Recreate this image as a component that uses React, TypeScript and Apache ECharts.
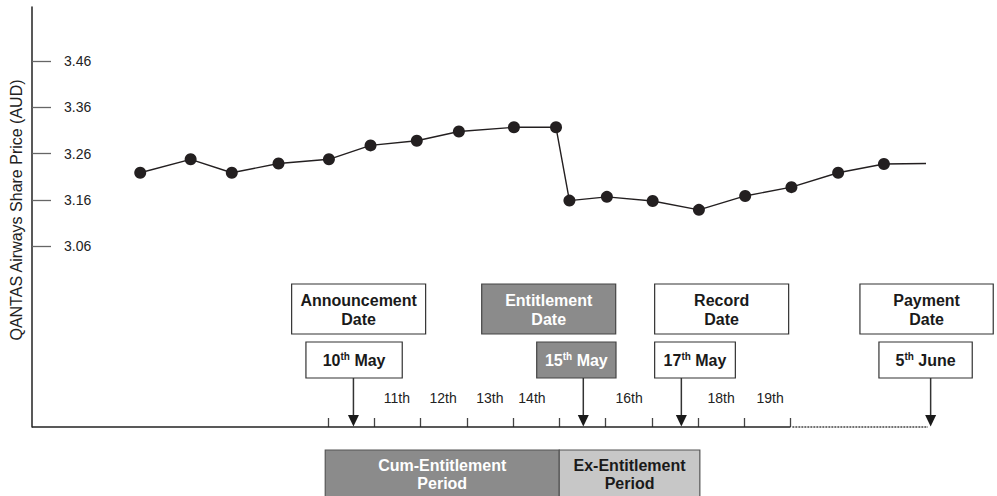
import React, { useEffect, useRef } from 'react';
import * as echarts from 'echarts';

// ---- data ----
const dayPositions = [5.94, 7.03, 7.92, 8.93, 10.02, 10.92, 11.92, 12.83, 14.02, 14.93, 15.22, 16.03, 17.02, 18.02, 19.02, 20.02, 21.03, 22.02, 22.93];
const sharePrices = [3.219, 3.248, 3.219, 3.239, 3.248, 3.278, 3.288, 3.308, 3.317, 3.317, 3.159, 3.167, 3.158, 3.139, 3.169, 3.188, 3.219, 3.238, 3.239];
const priceTicks = [3.06, 3.16, 3.26, 3.36, 3.46];
const dayTicks = [10, 11, 12, 13, 14, 15, 16, 17, 18, 19, 20];
const dayLabels = ['11th', '12th', '13th', '14th', '16th', '18th', '19th'];
const dayLabelPositions = [11.49, 12.49, 13.5, 14.41, 16.51, 18.5, 19.56];
const solidAxisRange = [3.6, 20];
const dottedAxisRange = [20.04, 22.97];
const eventTitles = [['Announcement', 'Date'], ['Entitlement', 'Date'], ['Record', 'Date'], ['Payment', 'Date']];
const eventDayNumbers = ['10', '15', '17', '5'];
const eventMonths = ['May', 'May', 'May', 'June'];
const eventPositions = [10.55, 15.52, 17.64, 23.03];
const eventShaded = [false, true, false, false];
const periodTitles = [['Cum-Entitlement', 'Period'], ['Ex-Entitlement', 'Period']];
const periodStarts = [9.94, 15.0];
const periodEnds = [15.0, 18.04];
const periodShades = ['dark', 'light'];
const axisTitle = 'QANTAS Airways Share Price (AUD)';

// ---- layout (pixels) ----
const X_MIN = 3.6;
const X_MAX = 23.6;
const Y_MIN = 2.6708;
const Y_MAX = 3.5764;
const titleBoxLayout = [
  { dx: -61.8, w: 134 },
  { dx: -101.6, w: 134 },
  { dx: -26.7, w: 134 },
  { dx: -70.7, w: 133.3 },
];
const dateBoxLayout = [
  { dx: -47.5, w: 96.3 },
  { dx: -46.6, w: 79.3 },
  { dx: -26.7, w: 80.7 },
  { dx: -51.7, w: 93.3 },
];
const FONT = '"Liberation Sans", Arial, Helvetica, sans-serif';
const DARK_FILL = '#8b8b8b';
const LIGHT_FILL = '#c7c7c7';
const INK = '#231f20';

export default function App() {
  const ref = useRef<HTMLDivElement>(null);

  useEffect(() => {
    if (!ref.current) return;
    const chart = echarts.init(ref.current, undefined, { renderer: 'svg' });

    const priceData = dayPositions.map((x, i) =>
      i === dayPositions.length - 1
        ? { value: [x, sharePrices[i]], symbol: 'none' }
        : [x, sharePrices[i]]
    );

    chart.setOption({
      animation: false,
      backgroundColor: '#ffffff',
      grid: {
        left: 32,
        top: 7,
        width: 925,
        height: 420,
        containLabel: false,
        outerBoundsMode: 'none',
      },
      xAxis: {
        type: 'value',
        min: X_MIN,
        max: X_MAX,
        axisLine: { show: false },
        splitLine: { show: false },
        axisTick: {
          show: true,
          inside: true,
          length: 9,
          customValues: dayTicks,
          lineStyle: { color: '#444', width: 1.3 },
        },
        axisLabel: {
          show: true,
          inside: true,
          margin: 22,
          customValues: dayLabelPositions,
          fontSize: 14,
          fontFamily: FONT,
          color: '#222',
          formatter: (v: number) => {
            const i = dayLabelPositions.findIndex((p) => Math.abs(p - v) < 1e-6);
            return i >= 0 ? dayLabels[i] : '';
          },
        },
      },
      yAxis: {
        type: 'value',
        min: Y_MIN,
        max: Y_MAX,
        axisLine: { show: true, lineStyle: { color: '#222', width: 1.5 } },
        splitLine: { show: false },
        axisTick: {
          show: true,
          inside: true,
          length: 19,
          customValues: priceTicks,
          lineStyle: { color: '#666', width: 1.3 },
        },
        axisLabel: {
          show: true,
          inside: true,
          margin: 32,
          customValues: priceTicks,
          fontSize: 14,
          fontFamily: FONT,
          color: '#222',
          formatter: (v: number) => v.toFixed(2),
        },
      },
      series: [
        {
          type: 'line',
          data: [[solidAxisRange[0], Y_MIN], [solidAxisRange[1], Y_MIN]],
          symbol: 'none',
          clip: false,
          silent: true,
          lineStyle: { color: '#222', width: 1.5 },
        },
        {
          type: 'line',
          data: [[dottedAxisRange[0], Y_MIN], [dottedAxisRange[1], Y_MIN]],
          symbol: 'none',
          clip: false,
          silent: true,
          lineStyle: { color: '#444', width: 1.5, type: [2, 1] },
        },
        {
          type: 'line',
          data: priceData,
          symbol: 'circle',
          symbolSize: 12,
          clip: false,
          itemStyle: { color: INK },
          lineStyle: { color: INK, width: 1.4 },
        },
      ],
    });

    const px = (v: number) => chart.convertToPixel({ xAxisIndex: 0 }, v) as number;
    const graphics: any[] = [];

    // y-axis title
    graphics.push({
      type: 'text',
      x: 16,
      y: 210,
      rotation: Math.PI / 2,
      style: {
        text: axisTitle,
        fontSize: 16,
        fontFamily: FONT,
        fill: '#222',
        align: 'center',
        verticalAlign: 'middle',
      },
    });

    eventPositions.forEach((pos, i) => {
      const ax = px(pos);
      const shaded = eventShaded[i];
      const tb = titleBoxLayout[i];
      const db = dateBoxLayout[i];
      const fill = shaded ? DARK_FILL : '#ffffff';
      const textFill = shaded ? '#ffffff' : '#1a1a1a';
      const stroke = shaded ? '#444' : '#333';
      // title box
      graphics.push({
        type: 'rect',
        shape: { x: ax + tb.dx, y: 284, width: tb.w, height: 50 },
        style: { fill, stroke, lineWidth: 1.2 },
      });
      graphics.push({
        type: 'text',
        x: ax + tb.dx + tb.w / 2,
        y: 309.5,
        style: {
          text: eventTitles[i].join('\n'),
          fontSize: 16,
          fontWeight: 'bold',
          fontFamily: FONT,
          lineHeight: 19,
          fill: textFill,
          align: 'center',
          verticalAlign: 'middle',
        },
      });
      // date box
      graphics.push({
        type: 'rect',
        shape: { x: ax + db.dx, y: 342, width: db.w, height: 36 },
        style: { fill, stroke, lineWidth: 1.2 },
      });
      graphics.push({
        type: 'text',
        x: ax + db.dx + db.w / 2,
        y: 360,
        style: {
          text: `{n|${eventDayNumbers[i]}}{s|th}{n| ${eventMonths[i]}}`,
          align: 'center',
          verticalAlign: 'middle',
          rich: {
            n: { fontSize: 16, fontWeight: 'bold', fontFamily: FONT, fill: textFill, lineHeight: 18 },
            s: { fontSize: 10, fontWeight: 'bold', fontFamily: FONT, fill: textFill, verticalAlign: 'top' },
          },
        },
      });
      // arrow
      graphics.push({
        type: 'line',
        shape: { x1: ax, y1: 378, x2: ax, y2: 417 },
        style: { stroke: '#333', lineWidth: 1.5 },
      });
      graphics.push({
        type: 'polygon',
        shape: { points: [[ax - 5.5, 415], [ax + 5.5, 415], [ax, 426.5]] },
        style: { fill: '#1a1a1a' },
      });
    });

    periodTitles.forEach((lines, i) => {
      const x1 = px(periodStarts[i]);
      const x2 = px(periodEnds[i]);
      const dark = periodShades[i] === 'dark';
      graphics.push({
        type: 'rect',
        shape: { x: x1, y: 450, width: x2 - x1, height: 52 },
        style: { fill: dark ? DARK_FILL : LIGHT_FILL, stroke: '#555', lineWidth: 1.2 },
      });
      graphics.push({
        type: 'text',
        x: (x1 + x2) / 2,
        y: 474,
        style: {
          text: lines.join('\n'),
          fontSize: 16,
          fontWeight: 'bold',
          fontFamily: FONT,
          lineHeight: 18,
          fill: dark ? '#ffffff' : '#1a1a1a',
          align: 'center',
          verticalAlign: 'middle',
        },
      });
    });

    chart.setOption({ graphic: graphics });

    return () => chart.dispose();
  }, []);

  return (
    <div
      ref={ref}
      style={{ position: 'fixed', left: 0, top: 0, width: 997, height: 496, background: '#fff' }}
    />
  );
}
